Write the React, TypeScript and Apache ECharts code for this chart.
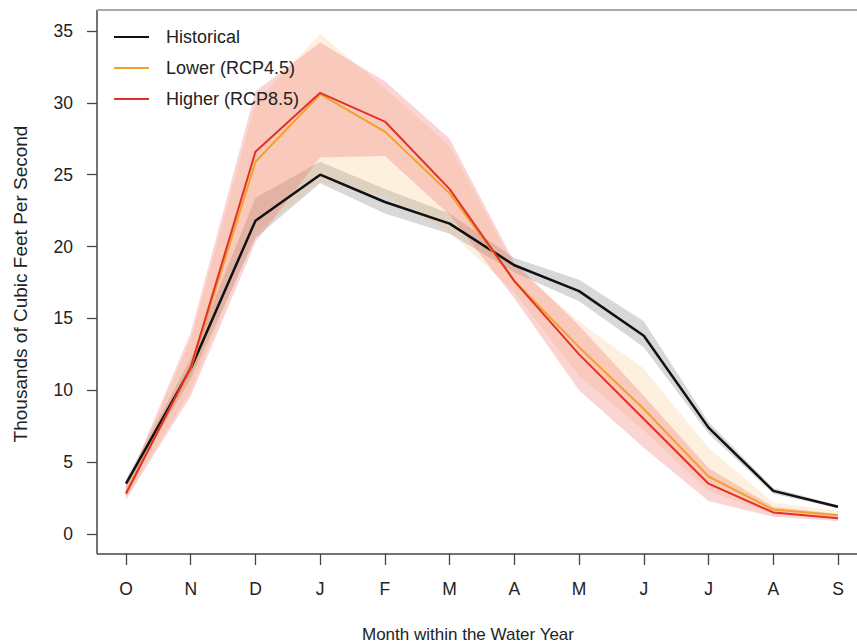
import React, { useEffect, useRef } from "react";
import * as echarts from "echarts";

const months = ["O", "N", "D", "J", "F", "M", "A", "M", "J", "J", "A", "S"];
const yTicks = [0, 5, 10, 15, 20, 25, 30, 35];

const historical = [3.5, 11.5, 21.8, 25.0, 23.1, 21.6, 18.7, 16.9, 13.8, 7.4, 3.0, 1.9];
const histLow = [3.2, 10.8, 20.6, 24.4, 22.3, 20.9, 18.2, 16.2, 13.0, 7.0, 2.8, 1.8];
const histHigh = [3.8, 12.2, 23.4, 25.9, 24.0, 22.3, 19.2, 17.7, 14.8, 7.8, 3.2, 2.0];

const lower45 = [2.9, 11.5, 25.9, 30.6, 28.0, 23.7, 17.6, 13.0, 8.7, 4.0, 1.7, 1.3];
const low45Low = [2.5, 10.0, 21.0, 24.5, 23.5, 21.0, 16.8, 11.0, 7.2, 3.0, 1.4, 1.1];
const low45High = [3.3, 13.5, 30.0, 34.8, 31.0, 27.0, 18.6, 14.8, 11.5, 6.0, 2.2, 1.6];

const higher85 = [2.8, 11.6, 26.6, 30.7, 28.7, 24.0, 17.6, 12.5, 8.0, 3.5, 1.5, 1.1];
const high85Low = [2.4, 9.6, 20.3, 26.2, 26.3, 22.2, 16.4, 10.0, 6.0, 2.3, 1.2, 0.9];
const high85High = [3.3, 14.0, 30.8, 34.2, 31.5, 27.5, 18.9, 14.5, 9.6, 4.6, 1.9, 1.4];

const FONT = "'Liberation Sans', Arial, sans-serif";

function band(id: string, lo: number[], hi: number[], color: string) {
  return [
    {
      name: id + "_lo",
      type: "line",
      stack: id,
      data: lo,
      symbol: "none",
      lineStyle: { opacity: 0 },
      silent: true,
      z: 1,
    },
    {
      name: id + "_hi",
      type: "line",
      stack: id,
      data: hi.map((v, i) => +(v - lo[i]).toFixed(3)),
      symbol: "none",
      lineStyle: { opacity: 0 },
      areaStyle: { color, opacity: 1 },
      silent: true,
      z: 1,
    },
  ];
}

export default function App() {
  const ref = useRef<HTMLDivElement>(null);
  useEffect(() => {
    if (!ref.current) return;
    const chart = echarts.init(ref.current, null, { renderer: "svg" });
    chart.setOption({
      animation: false,
      backgroundColor: "#ffffff",
      textStyle: { fontFamily: FONT },
      grid: { left: 126, right: 19, top: 31, bottom: 110, containLabel: false },
      legend: {
        data: ["Historical", "Lower (RCP4.5)", "Higher (RCP8.5)"],
        orient: "vertical",
        left: 114,
        top: 27,
        padding: 0,
        icon: "rect",
        itemWidth: 35,
        itemHeight: 2,
        itemGap: 11,
        textStyle: { fontFamily: FONT, fontSize: 18, lineHeight: 20, color: "#222", padding: [0, 0, 0, 12] },
      },
      xAxis: {
        type: "category",
        data: months,
        boundaryGap: false,
        offset: 20,
        axisLine: { show: false, onZero: false },
        axisTick: { show: true, length: 11, lineStyle: { color: "#444", width: 1.3 } },
        axisLabel: { fontFamily: FONT, fontSize: 17.5, color: "#222", margin: 26, interval: 0 },
        splitLine: { show: false },
      },
      yAxis: {
        type: "value",
        min: 0,
        max: 35,
        interval: 5,
        offset: 29,
        axisLine: { show: false, onZero: false },
        axisTick: { show: true, length: 10, lineStyle: { color: "#444", width: 1.3 } },
        axisLabel: { fontFamily: FONT, fontSize: 17.5, color: "#222", margin: 24 },
        splitLine: { show: false },
      },
      graphic: [
        { type: "line", shape: { x1: 97, y1: 10, x2: 97, y2: 554 }, style: { stroke: "#444", lineWidth: 1.5 } },
        { type: "line", shape: { x1: 97, y1: 554, x2: 857, y2: 554 }, style: { stroke: "#444", lineWidth: 1.5 } },
        { type: "line", shape: { x1: 97, y1: 10, x2: 857, y2: 10 }, style: { stroke: "#aaa", lineWidth: 2 } },
        {
          type: "text",
          x: 468,
          y: 634,
          style: { text: "Month within the Water Year", fontFamily: FONT, fontSize: 17, fill: "#222", align: "center", verticalAlign: "middle" },
        },
        {
          type: "text",
          x: 20,
          y: 284,
          rotation: Math.PI / 2,
          style: { text: "Thousands of Cubic Feet Per Second", fontFamily: FONT, fontSize: 19, fill: "#222", align: "center", verticalAlign: "middle" },
        },
      ],
      series: [
        ...band("hist", histLow, histHigh, "rgba(110,110,110,0.27)"),
        ...band("l45", low45Low, low45High, "rgba(250,185,110,0.22)"),
        ...band("h85", high85Low, high85High, "rgba(236,88,78,0.25)"),
        {
          name: "Historical",
          type: "line",
          data: historical,
          symbol: "none",
          color: "#111111",
          lineStyle: { color: "#111111", width: 2.5 },
          z: 3,
        },
        {
          name: "Lower (RCP4.5)",
          type: "line",
          data: lower45,
          symbol: "none",
          color: "#f2a22a",
          lineStyle: { color: "#f2a22a", width: 2 },
          z: 4,
        },
        {
          name: "Higher (RCP8.5)",
          type: "line",
          data: higher85,
          symbol: "none",
          color: "#e3302b",
          lineStyle: { color: "#e3302b", width: 2 },
          z: 5,
        },
      ],
    });
    return () => chart.dispose();
  }, []);
  return (
    <div
      ref={ref}
      style={{ position: "fixed", left: 0, top: 0, width: 857, height: 644, background: "#fff" }}
    />
  );
}
